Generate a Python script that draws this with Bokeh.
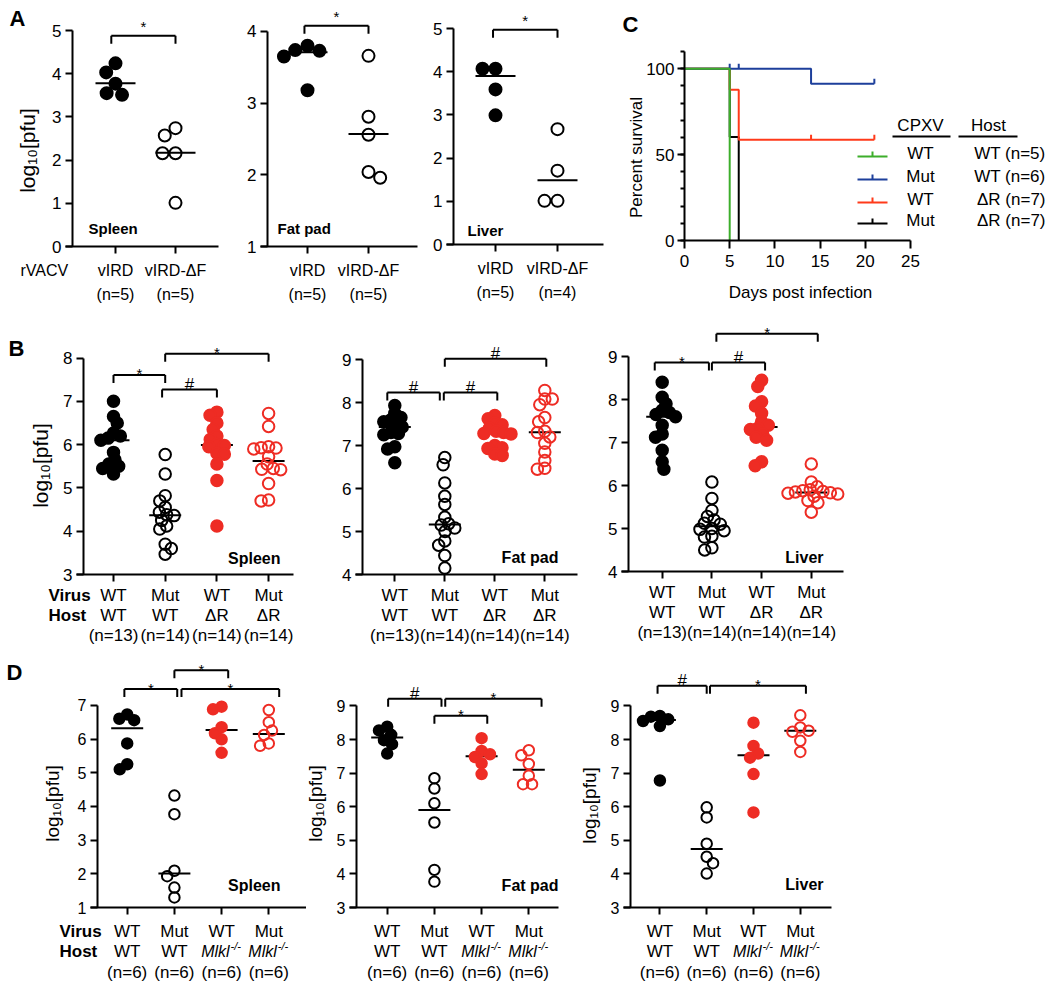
import math
from bokeh.plotting import figure
from bokeh.layouts import row, column
from bokeh.models import FixedTicker, Range1d
from bokeh.core.properties import value
from bokeh.embed import file_html
from bokeh.resources import INLINE

FONT = "Liberation Sans"
RED = "#EE2C24"

# ------------------------------------------------------------------ data
# Panel A  (rVACV: vIRD vs vIRD-dF), log10 pfu
a_groups = ["vIRD", "vIRD-ΔF"]
a_spleen = [[4.24, 4.03, 3.77, 3.55, 3.51], [2.74, 2.57, 2.16, 2.16, 1.01]]
a_spleen_lines = [3.78, 2.17]
a_fat = [[3.80, 3.74, 3.73, 3.65, 3.18], [3.66, 2.81, 2.56, 2.04, 1.96]]
a_fat_lines = [3.71, 2.57]
a_liver = [[4.07, 4.07, 3.59, 2.99], [2.67, 1.71, 1.01, 1.01]]
a_liver_lines = [3.90, 1.49]
a_n_spleen = ["(n=5)", "(n=5)"]
a_n_fat = ["(n=5)", "(n=5)"]
a_n_liver = ["(n=5)", "(n=4)"]

# Panel B  (CPXV WT / Mut in WT / dR hosts)
b_virus = ["WT", "Mut", "WT", "Mut"]
b_host = ["WT", "WT", "ΔR", "ΔR"]
b_n = ["(n=13)", "(n=14)", "(n=14)", "(n=14)"]
b_spleen = [
    [7.0, 6.65, 6.5, 6.27, 6.2, 6.15, 6.1, 5.82, 5.65, 5.55, 5.5, 5.45, 5.32],
    [5.77, 5.32, 4.82, 4.7, 4.55, 4.44, 4.38, 4.36, 4.25, 4.12, 4.05, 3.7, 3.6, 3.47],
    [6.75, 6.68, 6.5, 6.35, 6.2, 6.12, 6.0, 5.98, 5.95, 5.8, 5.78, 5.55, 5.17, 4.12],
    [6.72, 6.42, 5.95, 5.93, 5.92, 5.9, 5.72, 5.55, 5.45, 5.43, 5.42, 5.1, 4.72, 4.7]]
b_spleen_lines = [6.1, 4.37, 5.99, 5.62]
b_fat = [
    [7.93, 7.75, 7.65, 7.6, 7.55, 7.45, 7.43, 7.3, 7.28, 7.25, 6.97, 6.92, 6.6],
    [6.72, 6.55, 6.13, 5.82, 5.63, 5.33, 5.18, 5.15, 5.08, 5.0, 4.78, 4.68, 4.44, 4.15],
    [7.7, 7.62, 7.52, 7.48, 7.4, 7.33, 7.3, 7.28, 7.27, 7.0, 6.95, 6.93, 6.8, 6.77],
    [8.28, 8.08, 8.08, 7.95, 7.65, 7.55, 7.33, 7.3, 7.2, 7.05, 6.85, 6.65, 6.47, 6.45]]
b_fat_lines = [7.43, 5.16, 7.29, 7.31]
b_liver = [
    [8.4, 8.05, 7.9, 7.75, 7.7, 7.65, 7.6, 7.4, 7.2, 7.12, 6.82, 6.55, 6.38],
    [6.08, 5.7, 5.42, 5.28, 5.2, 5.12, 5.1, 5.0, 4.98, 4.95, 4.82, 4.8, 4.55, 4.5],
    [8.45, 8.3, 7.95, 7.85, 7.68, 7.48, 7.4, 7.33, 7.3, 7.2, 7.12, 7.05, 6.55, 6.46],
    [6.5, 6.08, 5.97, 5.9, 5.88, 5.86, 5.85, 5.83, 5.82, 5.8, 5.75, 5.65, 5.6, 5.38]]
b_liver_lines = [7.6, 5.05, 7.36, 5.84]

# Panel D  (CPXV WT / Mut in WT / Mlkl-/- hosts)
d_virus = ["WT", "Mut", "WT", "Mut"]
d_host = ["WT", "WT", "Mlkl", "Mlkl"]
d_n = ["(n=6)", "(n=6)", "(n=6)", "(n=6)"]
d_spleen = [[6.73, 6.6, 6.56, 5.87, 5.25, 5.1],
            [4.32, 3.77, 2.09, 1.93, 1.59, 1.3],
            [6.96, 6.88, 6.35, 6.17, 5.99, 5.59],
            [6.86, 6.5, 6.25, 6.12, 5.87, 5.8]]
d_spleen_lines = [6.32, 2.01, 6.27, 6.15]
d_fat = [[8.38, 8.27, 8.14, 7.98, 7.86, 7.58],
         [6.85, 6.54, 6.1, 5.53, 4.12, 3.77],
         [8.04, 7.66, 7.56, 7.48, 7.29, 6.97],
         [7.68, 7.53, 7.27, 6.92, 6.67, 6.67]]
d_fat_lines = [8.06, 5.9, 7.5, 7.1]
d_liver = [[8.7, 8.68, 8.6, 8.55, 8.4, 6.78],
           [5.98, 5.68, 4.9, 4.51, 4.32, 4.01],
           [8.5, 7.81, 7.58, 7.46, 6.97, 5.83],
           [8.72, 8.36, 8.26, 8.23, 7.96, 7.63]]
d_liver_lines = [8.58, 4.74, 7.53, 8.26]

# significance brackets: (from group, to group, level, symbol)
a_spleen_br = [(0.93, 2.0, 4.88, "*")]
a_fat_br = [(0.95, 2.0, 4.08, "*")]
a_liver_br = [(0.96, 2.0, 4.97, "*")]
b_spleen_br = [(1.0, 2.0, 7.61, "*"), (2.0, 4.0, 8.10, "*"), (1.94, 3.0, 7.27, "#")]
b_fat_br = [(0.85, 1.9, 8.23, "#"), (1.98, 3.05, 8.23, "#"), (2.0, 4.03, 9.02, "#")]
b_liver_br = [(0.85, 1.94, 8.86, "*"), (2.0, 3.07, 8.86, "#"), (2.09, 4.13, 9.53, "*")]
d_spleen_br = [(0.94, 2.06, 7.48, "*"), (2.0, 3.14, 8.04, "*"), (2.15, 4.22, 7.48, "*")]
d_fat_br = [(1.02, 2.15, 9.21, "#"), (2.0, 3.12, 8.71, "*"), (2.23, 4.27, 9.21, "*")]
d_liver_br = [(0.95, 2.0, 9.6, "#"), (2.07, 4.12, 9.6, "*")]

# Panel C  survival (Kaplan-Meier steps)
c_xticks = [0, 5, 10, 15, 20, 25]
c_virus = ["WT", "Mut", "WT", "Mut"]
c_host = ["WT (n=5)", "WT (n=6)", "ΔR (n=7)", "ΔR (n=7)"]
c_colors = ["#3DAE2B", "#1D3F9B", "#FF3A1A", "#000000"]
c_days = [[0, 5], [0, 14, 21], [0, 5, 6, 21], [0, 5, 6]]
c_surv = [[100, 0], [100, 91.3, 91.3], [100, 87.8, 58.6, 58.6], [100, 60.2, 0]]
c_cens_days = [[], [5, 6, 21], [14, 21], []]
c_cens_surv = [[], [100, 100, 91.3], [58.6, 58.6], []]


# ------------------------------------------------------------------ helpers
def swarm(vals, k, diam):
    """simple beeswarm: pixel offsets avoiding overlap"""
    placed = []
    offs = [0.0] * len(vals)
    order = sorted(range(len(vals)), key=lambda i: -vals[i])
    for n_, i in enumerate(order):
        y = vals[i] * k
        cands = [0.0]
        for (px, py) in placed:
            dy = abs(py - y)
            if dy < diam:
                dx = math.sqrt(diam * diam - dy * dy)
                cands += [px + dx, px - dx]
        sgn = 1 if n_ % 2 == 0 else -1
        cands.sort(key=lambda c: (round(abs(c), 3), -sgn * c))
        chosen = 0.0
        for c in cands:
            if all((c - px) ** 2 + (y - py) ** 2 >= diam * diam - 1e-6 for (px, py) in placed):
                chosen = c
                break
        placed.append((chosen, y))
        offs[i] = chosen
    return offs


def px2x(g, px):
    return 1 + (px - g["cat1"]) / g["sp"]


def px2y(g, py):
    return g["ybot"] + (g["B"] - py) / g["k"]


def make_fig(g, xr, yr):
    p = figure(width=g["fx1"] - g["fx0"], height=g["ry1"] - g["ry0"],
               x_range=Range1d(*xr), y_range=Range1d(*yr),
               min_border=0, min_border_left=0, min_border_right=0,
               min_border_top=0, min_border_bottom=0,
               output_backend="svg", toolbar_location=None, title=None)
    p.outline_line_color = None
    p.xgrid.visible = False
    p.ygrid.visible = False
    p.background_fill_color = "white"
    p.border_fill_color = "white"
    return p


def style_axis(ax, tick_size):
    ax.axis_line_width = 2
    ax.axis_line_color = "black"
    ax.major_tick_line_width = 2
    ax.major_tick_line_color = "black"
    ax.major_tick_out = 7
    ax.major_tick_in = 0
    ax.minor_tick_line_color = None
    ax.major_label_text_font = FONT
    ax.major_label_text_font_size = tick_size
    ax.major_label_text_color = "black"
    ax.major_label_standoff = 4


def txt(p, xs, ys, texts, size="17px", align="center", style="normal",
        baseline="middle", angle=0.0):
    p.text(x=list(xs), y=list(ys), text=list(texts), text_font=value(FONT),
           text_font_size=size, text_font_style=style, text_align=align,
           text_baseline=baseline, angle=angle, text_color="black")


def dot_panel(g, groups, lines, kinds, brackets, organ, xrows, cfg):
    n = len(groups)

    def X(px):
        return px2x(g, px)

    def Y(py):
        return px2y(g, py)

    p = make_fig(g, (X(g["fx0"]), X(g["fx1"])), (Y(g["ry1"]), Y(g["ry0"])))
    xa = p.xaxis[0]
    style_axis(xa, "1px")
    xa.ticker = FixedTicker(ticks=list(range(1, n + 1)))
    xa.major_label_overrides = {i: "" for i in range(1, n + 1)}
    xa.major_label_text_color = None
    xa.fixed_location = g["ybot"]
    xa.bounds = (X(g["L"] - 7), X(g["R"]))
    ya = p.yaxis[0]
    style_axis(ya, cfg["tick"])
    ya.ticker = FixedTicker(ticks=list(range(g["ybot"], g["ytop"] + 1)))
    ya.bounds = (g["ybot"], g["ytop"])
    ya.fixed_location = X(g["L"])
    if cfg.get("ylab"):
        lx, ly = cfg["ylab"]
        txt(p, [X(lx)], [Y(ly)], ["log₁₀[pfu]"], size=cfg["ylab_size"], angle=math.pi / 2)
    # centre lines
    hw = cfg["half"] / g["sp"]
    p.segment(x0=[i + 1 - hw for i in range(n)], y0=lines,
              x1=[i + 1 + hw for i in range(n)], y1=lines,
              line_color="black", line_width=2)
    # points
    for i, (vals, (col, filled)) in enumerate(zip(groups, kinds)):
        offs = swarm(vals, g["k"], cfg["diam"])
        xs = [i + 1 + o / g["sp"] for o in offs]
        p.scatter(x=xs, y=vals, marker="circle", size=cfg["ms"],
                  fill_color=col if filled else None, line_color=col, line_width=2)
    # brackets
    drop = 8 / g["k"]
    bx0, by0, bx1, by1 = [], [], [], []
    sx, sy, st, hx, hy, ht = [], [], [], [], [], []
    for (a, b, lev, sym) in brackets:
        bx0 += [a, a, b]
        by0 += [lev, lev, lev]
        bx1 += [b, a, b]
        by1 += [lev, lev - drop, lev - drop]
        if sym == "*":
            sx.append((a + b) / 2); sy.append(lev + cfg["star_off"] / g["k"]); st.append(sym)
        else:
            hx.append((a + b) / 2); hy.append(lev + 5 / g["k"]); ht.append(sym)
    p.segment(x0=bx0, y0=by0, x1=bx1, y1=by1, line_color="black", line_width=2)
    if st:
        txt(p, sx, sy, st, size="15px", baseline="alphabetic")
    if ht:
        txt(p, hx, hy, ht, size="17px", baseline="alphabetic")
    # organ label
    ox, oy, oal = cfg["organ_pos"]
    txt(p, [X(ox)], [Y(oy)], [organ], size=cfg["organ_size"], align=oal, style="bold")
    # category labels under the axis
    for texts, off in zip(xrows, cfg["row_offs"]):
        yy = Y(g["B"] + off)
        plain_x, plain_t = [], []
        for i, t in enumerate(texts):
            cxp = g["cat1"] + i * g["sp"]
            if t == "Mlkl":
                txt(p, [X(cxp + 8)], [yy], ["Mlkl"], size="16px", align="right", style="italic")
                txt(p, [X(cxp + 9)], [Y(g["B"] + off - 6)], ["-/-"], size="11px",
                    align="left", style="italic")
            else:
                plain_x.append(i + 1)
                plain_t.append(t)
        if plain_t:
            txt(p, plain_x, [yy] * len(plain_x), plain_t, size=cfg["xlab"])
    for (t, ri, xpx, style) in cfg.get("side", []):
        txt(p, [X(xpx)], [Y(g["B"] + cfg["row_offs"][ri])], [t], size=cfg["xlab"],
            align="left", style=style)
    if cfg.get("letter"):
        t, lx, ly = cfg["letter"]
        txt(p, [X(lx)], [Y(ly)], [t], size="22px", style="bold")
    return p


A_KINDS = [("black", True), ("black", False)]
BD_KINDS = [("black", True), ("black", False), (RED, True), (RED, False)]

# ------------------------------------------------------------------ row 1 : A
R1 = (0, 316)
gA1 = dict(fx0=0, fx1=225, ry0=R1[0], ry1=R1[1], L=72, R=218, B=246,
           ybot=0, ytop=5, k=43.2, cat1=115, sp=60)
gA2 = dict(fx0=225, fx1=425, ry0=R1[0], ry1=R1[1], L=267, R=417, B=246,
           ybot=1, ytop=4, k=71.67, cat1=307, sp=61)
gA3 = dict(fx0=425, fx1=615, ry0=R1[0], ry1=R1[1], L=453, R=603, B=244,
           ybot=0, ytop=5, k=43.2, cat1=495, sp=62)
cfgA = dict(tick="17px", xlab="16px", ms=12, diam=13, half=20, organ_size="15px",
            row_offs=[24, 48], ylab_size="21px", star_off=9)

pA1 = dot_panel(gA1, a_spleen, a_spleen_lines, A_KINDS, a_spleen_br, "Spleen",
                [a_groups, a_n_spleen],
                dict(cfgA, ylab=(27, 150), organ_pos=(88, 228, "left"),
                     side=[("rVACV", 0, 20, "normal")], letter=("A", 17, 18)))
pA2 = dot_panel(gA2, a_fat, a_fat_lines, A_KINDS, a_fat_br, "Fat pad",
                [a_groups, a_n_fat], dict(cfgA, organ_pos=(277, 228, "left")))
pA3 = dot_panel(gA3, a_liver, a_liver_lines, A_KINDS, a_liver_br, "Liver",
                [a_groups, a_n_liver], dict(cfgA, organ_pos=(467, 230, "left")))

# ------------------------------------------------------------------ row 1 : C
gC = dict(fx0=615, fx1=1050, ry0=R1[0], ry1=R1[1])
C_X0, C_Y0 = 684, 240          # pixel position of (0 days, 0 %)
KX, KY = 9.04, 1.718           # pixels per day / per percent


def cx(px):
    return (px - C_X0) / KX


def cy(py):
    return (C_Y0 - py) / KY


pC = make_fig(gC, (cx(gC["fx0"]), cx(gC["fx1"])), (cy(gC["ry1"]), cy(gC["ry0"])))
xa = pC.xaxis[0]
style_axis(xa, "17px")
xa.ticker = FixedTicker(ticks=c_xticks)
xa.bounds = (0, 25)
xa.fixed_location = 0
xa.major_tick_out = 8
xa.major_label_standoff = 6
ya = pC.yaxis[0]
style_axis(ya, "17px")
ya.ticker = FixedTicker(ticks=[0, 50, 100], minor_ticks=list(range(0, 111, 10)))
ya.minor_tick_line_color = "black"
ya.minor_tick_line_width = 2
ya.minor_tick_out = 4
ya.minor_tick_in = 0
ya.major_label_standoff = 3
ya.bounds = (0, 110)
ya.fixed_location = 0
txt(pC, [cx(800)], [cy(292)], ["Days post infection"], size="17px")
txt(pC, [cx(636)], [cy(157)], ["Percent survival"], size="17px", angle=math.pi / 2)

tick_h = 5 / KY
for i in [3, 2, 1, 0]:
    pC.step(x=c_days[i], y=c_surv[i], mode="after", line_color=c_colors[i], line_width=2)
    if c_cens_days[i]:
        pC.segment(x0=c_cens_days[i], y0=c_cens_surv[i], x1=c_cens_days[i],
                   y1=[s + tick_h for s in c_cens_surv[i]], line_color=c_colors[i], line_width=2)

# legend (table style)
leg_y = [156, 179, 202, 223]
txt(pC, [cx(920), cx(988)], [cy(125)] * 2, ["CPXV", "Host"], size="17px")
pC.segment(x0=[cx(892), cx(958)], y0=[cy(136)] * 2, x1=[cx(950), cx(1017)], y1=[cy(136)] * 2,
           line_color="black", line_width=2)
pC.segment(x0=[cx(857)] * 4, y0=[cy(v) for v in leg_y], x1=[cx(887)] * 4,
           y1=[cy(v) for v in leg_y], line_color=c_colors, line_width=2)
pC.segment(x0=[cx(872)] * 4, y0=[cy(v) for v in leg_y], x1=[cx(872)] * 4,
           y1=[cy(v - 5) for v in leg_y], line_color=c_colors, line_width=2)
txt(pC, [cx(920)] * 4, [cy(v - 3) for v in leg_y], c_virus, size="17px")
txt(pC, [cx(1045)] * 4, [cy(v - 3) for v in leg_y], c_host, size="17px", align="right")
txt(pC, [cx(630)], [cy(24)], ["C"], size="22px", style="bold")

# ------------------------------------------------------------------ row 2 : B
R2 = (316, 648)
gB1 = dict(fx0=0, fx1=318, ry0=R2[0], ry1=R2[1], L=83, R=293, B=574,
           ybot=3, ytop=8, k=43.3, cat1=113, sp=51.7)
gB2 = dict(fx0=318, fx1=602, ry0=R2[0], ry1=R2[1], L=362, R=577, B=574,
           ybot=4, ytop=9, k=43.0, cat1=394.3, sp=50.0)
gB3 = dict(fx0=602, fx1=1050, ry0=R2[0], ry1=R2[1], L=628, R=843, B=571,
           ybot=4, ytop=9, k=43.0, cat1=661.7, sp=49.7)
cfgB = dict(tick="17px", xlab="17px", ms=11.5, diam=7.5, half=16, organ_size="16px",
            row_offs=[21, 41, 61], ylab_size="21px", star_off=1)
rowsB = [b_virus, b_host, b_n]
pB1 = dot_panel(gB1, b_spleen, b_spleen_lines, BD_KINDS, b_spleen_br, "Spleen", rowsB,
                dict(cfgB, ylab=(40, 465), organ_pos=(280, 558, "right"),
                     side=[("Virus", 0, 48, "bold"), ("Host", 1, 48, "bold")],
                     letter=("B", 16, 348)))
pB2 = dot_panel(gB2, b_fat, b_fat_lines, BD_KINDS, b_fat_br, "Fat pad", rowsB,
                dict(cfgB, organ_pos=(558, 557, "right")))
pB3 = dot_panel(gB3, b_liver, b_liver_lines, BD_KINDS, b_liver_br, "Liver", rowsB,
                dict(cfgB, organ_pos=(823, 557, "right")))

# ------------------------------------------------------------------ row 3 : D
R3 = (648, 984)
gD1 = dict(fx0=0, fx1=306, ry0=R3[0], ry1=R3[1], L=97, R=306, B=907,
           ybot=1, ytop=7, k=33.7, cat1=126.7, sp=47.2)
gD2 = dict(fx0=306, fx1=580, ry0=R3[0], ry1=R3[1], L=356, R=558, B=907,
           ybot=3, ytop=9, k=33.6, cat1=386.7, sp=47.2)
gD3 = dict(fx0=580, fx1=1050, ry0=R3[0], ry1=R3[1], L=630, R=831, B=907,
           ybot=3, ytop=9, k=33.6, cat1=659.4, sp=46.8)
cfgD = dict(tick="16px", xlab="17px", ms=10.5, diam=9, half=16, organ_size="16px",
            row_offs=[24, 44, 65], ylab_size="19px", star_off=1)
rowsD = [d_virus, d_host, d_n]
pD1 = dot_panel(gD1, d_spleen, d_spleen_lines, BD_KINDS, d_spleen_br, "Spleen", rowsD,
                dict(cfgD, ylab=(52, 803), organ_pos=(280, 885, "right"),
                     side=[("Virus", 0, 59, "bold"), ("Host", 1, 59, "bold")],
                     letter=("D", 14, 672)))
pD2 = dot_panel(gD2, d_fat, d_fat_lines, BD_KINDS, d_fat_br, "Fat pad", rowsD,
                dict(cfgD, ylab=(315, 803), organ_pos=(558, 885, "right")))
pD3 = dot_panel(gD3, d_liver, d_liver_lines, BD_KINDS, d_liver_br, "Liver", rowsD,
                dict(cfgD, ylab=(589, 805), organ_pos=(823, 884, "right")))

layout = column(row(pA1, pA2, pA3, pC), row(pB1, pB2, pB3), row(pD1, pD2, pD3))

with open("out.html", "w") as f:
    f.write(file_html(layout, INLINE))
